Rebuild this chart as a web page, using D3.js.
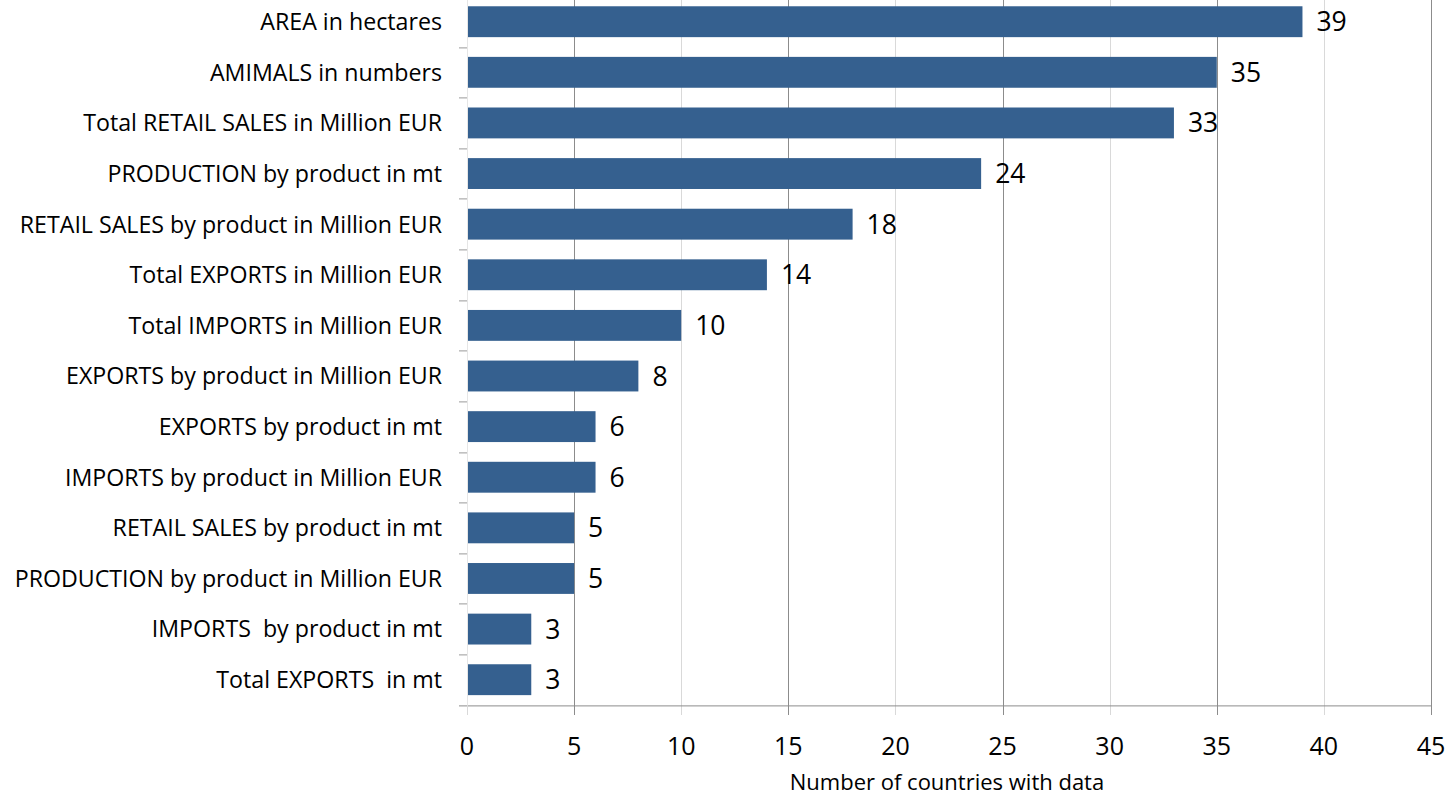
<!DOCTYPE html>
<html>
<head>
<meta charset="utf-8">
<script src="https://cdn.jsdelivr.net/npm/d3@7"></script>
<style>
  body { margin: 0; background: #fff; }
  text { font-family: "Open Sans", "Noto Sans", sans-serif; fill: #000; white-space: pre; }
</style>
</head>
<body>
<div id="chart"></div>
<script>
// Categories, top to bottom
const categories = [
  "AREA in hectares",
  "AMIMALS in numbers",
  "Total RETAIL SALES in Million EUR",
  "PRODUCTION by product in mt",
  "RETAIL SALES by product in Million EUR",
  "Total EXPORTS in Million EUR",
  "Total IMPORTS in Million EUR",
  "EXPORTS by product in Million EUR",
  "EXPORTS by product in mt",
  "IMPORTS by product in Million EUR",
  "RETAIL SALES by product in mt",
  "PRODUCTION by product in Million EUR",
  "IMPORTS  by product in mt",
  "Total EXPORTS  in mt"
];
const countries = [39, 35, 33, 24, 18, 14, 10, 8, 6, 6, 5, 5, 3, 3];
const xTicks = [0, 5, 10, 15, 20, 25, 30, 35, 40, 45];

const W = 1453, H = 798;
const margin = { top: -3.6, right: 22, bottom: 93, left: 467 };
const width = W - margin.left - margin.right,
      height = H - margin.top - margin.bottom;

const svg = d3.select("#chart").append("svg")
    .attr("width", W)
    .attr("height", H)
  .append("g")
    .attr("transform", `translate(${margin.left},${margin.top})`);

const x = d3.scaleLinear().domain([0, 45]).range([0, width]);
const y = d3.scaleBand().domain(categories).range([0, height]).paddingInner(0.39).paddingOuter(0.195);

// Gridlines: odd multiples of 5 darker, even multiples lighter
svg.append("g")
  .selectAll("line")
  .data(xTicks.filter(d => d > 0))
  .join("line")
    .attr("x1", d => Math.round(x(d)) + 0.5)
    .attr("x2", d => Math.round(x(d)) + 0.5)
    .attr("y1", 0)
    .attr("y2", height + 10)
    .attr("stroke", d => (d / 5) % 2 === 1 ? "#8c8c8c" : "#d9d9d9")
    .attr("stroke-width", 1);

// Bars
svg.append("g")
  .selectAll("rect")
  .data(categories)
  .join("rect")
    .attr("x", 0)
    .attr("y", d => y(d))
    .attr("width", (d, i) => x(countries[i]))
    .attr("height", y.bandwidth())
    .attr("fill", "#35608f");

// Value labels
svg.append("g")
  .selectAll("text")
  .data(categories)
  .join("text")
    .attr("x", (d, i) => x(countries[i]) + 14)
    .attr("y", d => y(d) + y.bandwidth() / 2)
    .attr("dy", "0.36em")
    .style("font-size", "26.5px")
    .text((d, i) => countries[i]);

// Left axis: faint line, ticks at category boundaries
svg.append("line")
    .attr("x1", 0.5).attr("x2", 0.5)
    .attr("y1", 0).attr("y2", height)
    .attr("stroke", "#e6e6e6");
const step = y.step();
svg.append("g")
  .selectAll("line")
  .data(d3.range(1, categories.length))
  .join("line")
    .attr("x1", -8).attr("x2", 0)
    .attr("y1", i => Math.round(i * step) + 0.5)
    .attr("y2", i => Math.round(i * step) + 0.5)
    .attr("stroke", "#999");

// Category labels
svg.append("g")
  .selectAll("text")
  .data(categories)
  .join("text")
    .attr("x", -25)
    .attr("y", d => y(d) + y.bandwidth() / 2)
    .attr("dy", "0.36em")
    .attr("text-anchor", "end")
    .style("font-size", "23.2px")
    .text(d => d);

// Bottom axis
svg.append("line")
    .attr("x1", -8).attr("x2", width + 1)
    .attr("y1", Math.round(height) + 0.5).attr("y2", Math.round(height) + 0.5)
    .attr("stroke", "#8c8c8c");
svg.append("line")
    .attr("x1", 0.5).attr("x2", 0.5)
    .attr("y1", height).attr("y2", height + 10)
    .attr("stroke", "#d9d9d9");

svg.append("g")
  .selectAll("text")
  .data(xTicks)
  .join("text")
    .attr("x", d => x(d))
    .attr("y", height + 41)
    .attr("dy", "0.36em")
    .attr("text-anchor", "middle")
    .style("font-size", "25px")
    .text(d => d);

// Axis title
svg.append("text")
    .attr("x", 947 - margin.left)
    .attr("y", height + 77)
    .attr("dy", "0.36em")
    .attr("text-anchor", "middle")
    .style("font-size", "22px")
    .text("Number of countries with data");
</script>
</body>
</html>
